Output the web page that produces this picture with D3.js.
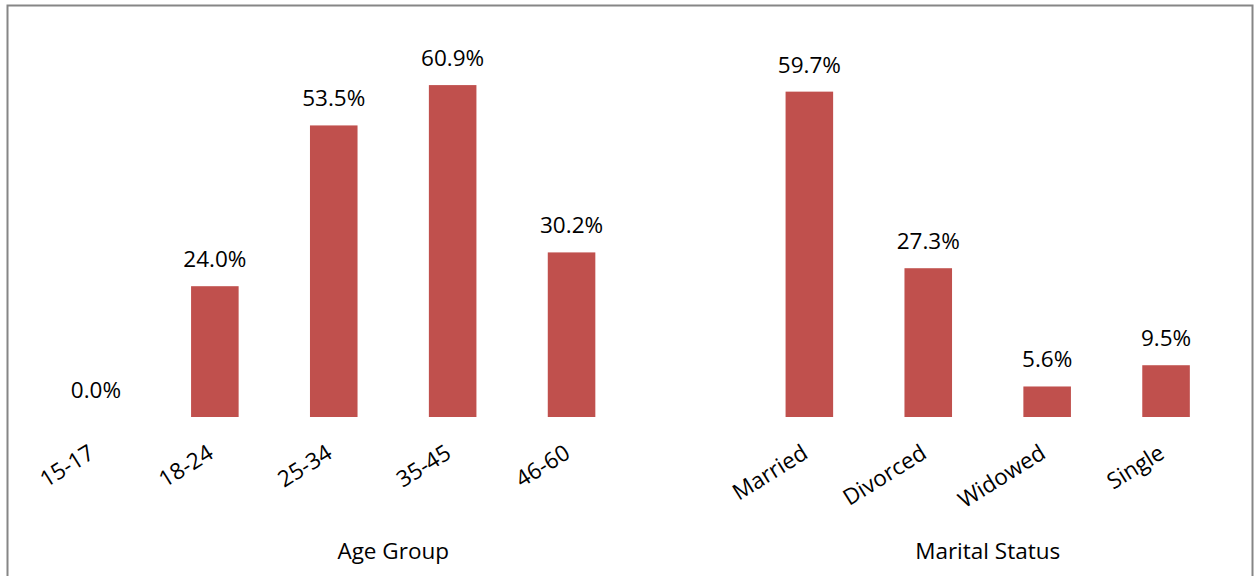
<!DOCTYPE html>
<html>
<head>
<meta charset="utf-8">
<script src="https://cdn.jsdelivr.net/npm/d3@7"></script>
<style>
  html, body { margin: 0; padding: 0; background: #fff; }
  svg { display: block; font-family: "Open Sans", Lato, sans-serif; }
</style>
</head>
<body>
<svg id="chart" width="1255" height="576"></svg>
<script>
// Share of respondents by age group and by marital status (%)
const ageGroups = ["15-17", "18-24", "25-34", "35-45", "46-60"];
const ageValues = [0.0, 24.0, 53.5, 60.9, 30.2];
const maritalGroups = ["Married", "Divorced", "Widowed", "Single"];
const maritalValues = [59.7, 27.3, 5.6, 9.5];
const groupTitles = ["Age Group", "Marital Status"];

// One slot per category, with an empty spacer slot closing the first group
const spacer = "__gap__";
const slots = [...ageGroups, spacer, ...maritalGroups];
const rows = [
  ...ageGroups.map((c, i) => ({ cat: c, value: ageValues[i] })),
  ...maritalGroups.map((c, i) => ({ cat: c, value: maritalValues[i] }))
];
const groups = [
  { title: groupTitles[0], first: ageGroups[0], last: spacer },
  { title: groupTitles[1], first: maritalGroups[0], last: maritalGroups[maritalGroups.length - 1] }
];

const svg = d3.select("#chart");
const barColor = "#C0504D";
const fontSize = 22.5;
const fontFamily = "'Open Sans', Lato, sans-serif";

// Outer frame
svg.append("rect")
  .attr("x", 7.5).attr("y", 5.5)
  .attr("width", 1245).attr("height", 600)
  .attr("fill", "#fff")
  .attr("stroke", "#868686")
  .attr("stroke-width", 2);

const x = d3.scaleBand()
  .domain(slots)
  .range([36.5, 1225.5])
  .paddingInner(0.6)
  .paddingOuter(0.3);

const y = d3.scaleLinear()
  .domain([0, 70])
  .range([417, 35.5]);

const fmt = v => v.toFixed(1) + "%";

// Bars
svg.append("g").selectAll("rect")
  .data(rows)
  .join("rect")
  .attr("x", d => x(d.cat))
  .attr("y", d => y(d.value))
  .attr("width", x.bandwidth())
  .attr("height", d => y(0) - y(d.value))
  .attr("fill", barColor);

// Value labels above each bar
svg.append("g").selectAll("text")
  .data(rows)
  .join("text")
  .attr("x", d => x(d.cat) + x.bandwidth() / 2)
  .attr("y", d => y(d.value) - 19)
  .attr("text-anchor", "middle")
  .attr("font-size", fontSize)
  .attr("fill", "#000")
  .text(d => fmt(d.value));

// Category axis with rotated labels
const axis = d3.axisBottom(x)
  .tickSize(0)
  .tickFormat(d => d === spacer ? "" : d);

const axisG = svg.append("g")
  .attr("transform", `translate(0, ${y(0)})`)
  .call(axis);
axisG.select(".domain").remove();
axisG.selectAll(".tick text")
  .attr("font-size", fontSize)
  .attr("font-family", fontFamily)
  .attr("fill", "#000")
  .attr("text-anchor", "end")
  .attr("x", 0).attr("y", 0).attr("dy", 0)
  .attr("transform", "translate(0, 40) rotate(-32)");

// Group titles centred under their slot ranges
const step = x.step();
const slotLeft = c => x(c) - step * x.paddingInner() / 2;
svg.append("g").selectAll("text")
  .data(groups)
  .join("text")
  .attr("x", g => (slotLeft(g.first) + slotLeft(g.last) + step) / 2)
  .attr("y", 559)
  .attr("text-anchor", "middle")
  .attr("font-size", fontSize)
  .attr("fill", "#000")
  .text(g => g.title);
</script>
</body>
</html>
